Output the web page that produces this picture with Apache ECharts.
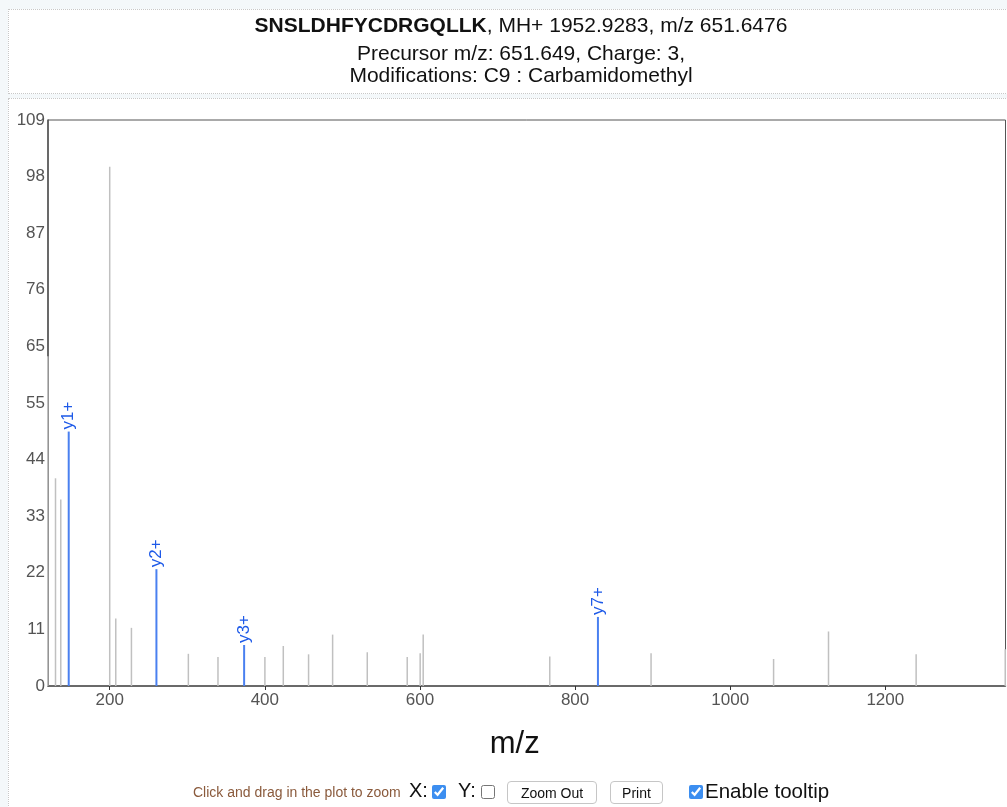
<!DOCTYPE html>
<html>
<head>
<meta charset="utf-8">
<script src="https://cdn.jsdelivr.net/npm/echarts@6/dist/echarts.min.js"></script>
<style>
  html, body { margin:0; padding:0; width:1007px; height:807px; overflow:hidden; background:#f4f8fa; font-family:'Liberation Sans', Arial, Helvetica, sans-serif; }
  .box { position:absolute; background:#fff; border:1px dotted #c8c8c8; box-sizing:border-box; }
  #chart { position:absolute; left:0; top:0; width:1007px; height:807px; }
  .ctl { position:absolute; white-space:nowrap; }
  .hint { left:193px; top:784px; font-size:14px; color:#8a5a3c; }
  .lbl { font-size:20px; color:#111; }
  input[type=checkbox] { accent-color:#3c8ef0; width:14px; height:14px; margin:0; }
  button { font-family:'Liberation Sans', Arial, sans-serif; font-size:14px; background:#fff; border:1px solid #c6c6c6; border-radius:4px; padding:0; height:23px; color:#111; }
</style>
</head>
<body>
<div class="box" style="left:8px; top:9px; width:1010px; height:85px;"></div>
<div class="box" style="left:8px; top:98px; width:1010px; height:720px;"></div>
<div id="chart"></div>
<div class="ctl hint">Click and drag in the plot to zoom</div>
<div class="ctl lbl" style="left:409px; top:779px;">X:</div>
<input class="ctl" type="checkbox" checked style="left:432px; top:785px;">
<div class="ctl lbl" style="left:458px; top:779px;">Y:</div>
<input class="ctl" type="checkbox" style="left:481px; top:785px;">
<button class="ctl" style="left:507px; top:781px; width:90px;">Zoom Out</button>
<button class="ctl" style="left:610px; top:781px; width:53px;">Print</button>
<input class="ctl" type="checkbox" checked style="left:689px; top:785px;">
<div class="ctl lbl" style="left:705px; top:779px; font-size:20.5px;">Enable tooltip</div>
<script>
// Unannotated peaks (m/z, relative intensity)
const peakMz  = [120.4, 130.4, 137.2, 200.3, 208.1, 228.3, 301.7, 339.9, 400.4, 424.1, 456.7, 487.7, 532.4, 583.9, 600.6, 604.5, 767.7, 898.3, 1056.3, 1127.1, 1240.1, 1355.0];
const peakInt = [63.5, 40.0, 35.9, 100.0, 13.0, 11.2, 6.2, 5.6, 5.6, 7.7, 6.1, 9.9, 6.5, 5.6, 6.3, 9.9, 5.7, 6.3, 5.2, 10.5, 6.1, 7.1];
// Annotated y ions
const ionMz    = [147.11, 260.20, 373.28, 829.49];
const ionInt   = [49.0, 22.5, 7.9, 13.3];
const ionLabel = ['y1+', 'y2+', 'y3+', 'y7+'];
// Axis settings
const xMin = 120.4, xMax = 1355.0;
const yMin = 0, yMax = 109, yStep = 10.9;

const FONT = "'Liberation Sans', Arial, Helvetica, sans-serif";
const chart = echarts.init(document.getElementById('chart'), null, {renderer:'canvas'});

const grayData = peakMz.map((m, i) => [m, peakInt[i]]);
const ionData = ionMz.map((m, i) => ({ value:[m, ionInt[i]], name: ionLabel[i] }));

chart.setOption({
  animation: false,
  backgroundColor: 'transparent',
  title: [
    { text: '{b|SNSLDHFYCDRGQLLK}, MH+ 1952.9283, m/z 651.6476', left: 516, top: 11, textAlign: 'center',
      textStyle: { fontFamily: FONT, fontSize: 21, fontWeight: 'normal', color: '#111',
        rich: { b: { fontFamily: FONT, fontSize: 21, fontWeight: 'bold', color: '#111' } } } },
    { text: 'Precursor m/z: 651.649, Charge: 3,', left: 516, top: 39, textAlign: 'center',
      textStyle: { fontFamily: FONT, fontSize: 21, fontWeight: 'normal', color: '#111' } },
    { text: 'Modifications: C9 : Carbamidomethyl', left: 516, top: 61, textAlign: 'center',
      textStyle: { fontFamily: FONT, fontSize: 21, fontWeight: 'normal', color: '#111' } }
  ],
  grid: { left: 48, right: 1.5, top: 120, bottom: 121, show: true, borderColor: '#555', borderWidth: 1, containLabel: false },
  xAxis: {
    type: 'value', min: xMin, max: xMax,
    name: 'm/z', nameLocation: 'middle', nameGap: 43,
    nameTextStyle: { fontFamily: FONT, fontSize: 31, color: '#111', padding: [0, 24, 0, 0] },
    axisLine: { show: true, lineStyle: { color: '#555', width: 1.5 } },
    axisTick: { show: true, length: 4, lineStyle: { color: '#333' } },
    axisLabel: { fontFamily: FONT, fontSize: 17, color: '#545454', margin: 6, showMinLabel: false, showMaxLabel: false,
      formatter: v => String(v) },
    splitLine: { show: false }
  },
  yAxis: {
    type: 'value', min: yMin, max: yMax, interval: yStep,
    axisLine: { show: true, lineStyle: { color: '#555', width: 1.5 } },
    axisTick: { show: false },
    axisLabel: { fontFamily: FONT, fontSize: 17, color: '#545454', margin: 3,
      formatter: v => String(Math.round(v)) },
    splitLine: { show: false }
  },
  series: [
    { type: 'bar', data: grayData, barWidth: 1.5, barGap: '-100%',
      itemStyle: { color: '#c0c0c0' }, silent: true },
    { type: 'bar', data: ionData, barWidth: 2, barGap: '-100%',
      itemStyle: { color: '#4a80f0' },
      label: { show: true, position: 'top', rotate: 90, align: 'left', verticalAlign: 'middle', distance: 2,
        formatter: p => p.name, fontFamily: FONT, fontSize: 17, color: '#1e5ae8' } }
  ]
});
</script>
</body>
</html>
